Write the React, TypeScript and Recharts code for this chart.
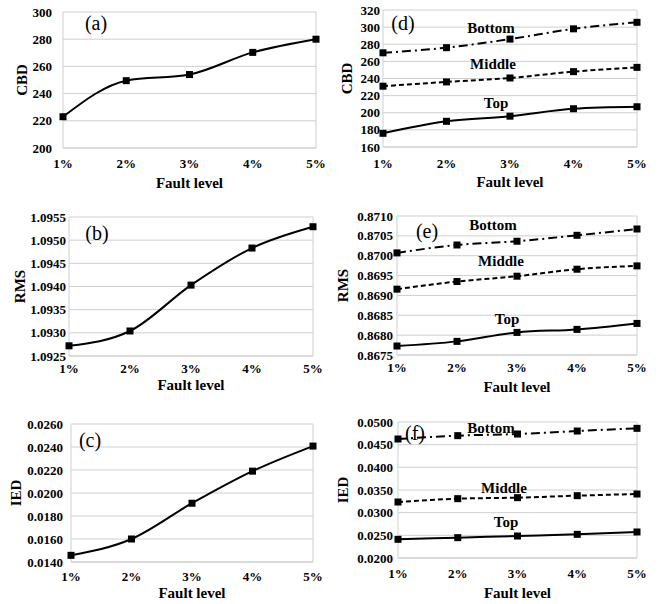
import React from "react";
import { LineChart, Line, XAxis, YAxis, CartesianGrid, ReferenceLine } from "recharts";

// Fault levels on the x axis
const faultLevels = ["1%", "2%", "3%", "4%", "5%"];

// Left column: single series
const cbdA = [223, 249.5, 254, 270.3, 280];
const rmsB = [1.09272, 1.09304, 1.09403, 1.09483, 1.09529];
const iedC = [0.01458, 0.016, 0.01911, 0.0219, 0.02408];

// Right column: Bottom / Middle / Top
const cbdBottom = [270, 276, 286, 298, 305.6];
const cbdMiddle = [231, 236, 240.6, 248, 253];
const cbdTop = [176, 190, 196, 204.7, 207];

const rmsBottom = [0.870071, 0.87027, 0.870364, 0.870514, 0.870673];
const rmsMiddle = [0.869158, 0.86935, 0.869484, 0.86966, 0.869744];
const rmsTop = [0.867726, 0.867843, 0.868069, 0.868145, 0.868295];

const iedBottom = [0.04625, 0.04699, 0.04735, 0.04801, 0.0486];
const iedMiddle = [0.03235, 0.03309, 0.03331, 0.03375, 0.03412];
const iedTop = [0.02412, 0.02449, 0.02485, 0.02522, 0.02574];

// Tick labels
const cbdTicksA = [200, 220, 240, 260, 280, 300];
const cbdTicksD = [160, 180, 200, 220, 240, 260, 280, 300, 320];
const rmsTicksB = [1.0925, 1.093, 1.0935, 1.094, 1.0945, 1.095, 1.0955];
const rmsTicksE = [0.8675, 0.868, 0.8685, 0.869, 0.8695, 0.87, 0.8705, 0.871];
const iedTicksC = [0.014, 0.016, 0.018, 0.02, 0.022, 0.024, 0.026];
const iedTicksF = [0.02, 0.025, 0.03, 0.035, 0.04, 0.045, 0.05];

const FONT = "'Liberation Serif', 'Times New Roman', serif";
const GRID = "#cfcfcf";

const build = (series: Record<string, number[]>) =>
  faultLevels.map((lvl, i) => {
    const row: Record<string, any> = { level: lvl };
    Object.keys(series).forEach((k) => (row[k] = series[k][i]));
    return row;
  });

const SquareDot = (props: any) => {
  const { cx, cy } = props;
  if (cx == null || cy == null) return null;
  return <rect x={cx - 3.5} y={cy - 3.5} width={7} height={7} fill="#000" />;
};

const yTitle = (text: string, dx: number) => (props: any) => {
  const vb = props.viewBox || {};
  const cx = vb.x + dx;
  const cy = vb.y + vb.height / 2;
  return (
    <text
      x={cx}
      y={cy}
      transform={`rotate(-90 ${cx} ${cy})`}
      textAnchor="middle"
      dominantBaseline="central"
      fontFamily={FONT}
      fontWeight="bold"
      fontSize={15}
      fill="#000"
    >
      {text}
    </text>
  );
};

type Note = { text: string; x: number; y: number; bold?: boolean };

type Panel = {
  ox: number; // chart origin x on page
  l: number;
  t: number;
  r: number;
  b: number;
  ticks: number[];
  digits: number;
  yName: string;
  yNameX: number;
  yGap: number;
  xGap: number;
  xH: number;
  data: Record<string, any>[];
  lines: { key: string; dash?: string }[];
  notes: Note[];
};

const panels: Panel[] = [
  {
    ox: 0, l: 63, t: 12, r: 316, b: 148, ticks: cbdTicksA, digits: 0, yName: "CBD", yNameX: 22,
    yGap: 11, xGap: 11, xH: 40, data: build({ v: cbdA }), lines: [{ key: "v" }],
    notes: [{ text: "(a)", x: 96, y: 23 }],
  },
  {
    ox: 331, l: 383, t: 10, r: 637, b: 147, ticks: cbdTicksD, digits: 0, yName: "CBD", yNameX: 16,
    yGap: 3, xGap: 12, xH: 40,
    data: build({ bottom: cbdBottom, middle: cbdMiddle, top: cbdTop }),
    lines: [{ key: "bottom", dash: "9 4 2 4" }, { key: "middle", dash: "5 3" }, { key: "top" }],
    notes: [
      { text: "(d)", x: 403, y: 23 },
      { text: "Bottom", x: 491, y: 28, bold: true },
      { text: "Middle", x: 493, y: 64, bold: true },
      { text: "Top", x: 496, y: 103, bold: true },
    ],
  },
  {
    ox: 0, l: 69, t: 217, r: 313, b: 356, ticks: rmsTicksB, digits: 4, yName: "RMS", yNameX: 20,
    yGap: 3, xGap: 8, xH: 34, data: build({ v: rmsB }), lines: [{ key: "v" }],
    notes: [{ text: "(b)", x: 97, y: 233 }],
  },
  {
    ox: 331, l: 397, t: 216, r: 637, b: 355, ticks: rmsTicksE, digits: 4, yName: "RMS", yNameX: 12,
    yGap: 4, xGap: 8, xH: 37,
    data: build({ bottom: rmsBottom, middle: rmsMiddle, top: rmsTop }),
    lines: [{ key: "bottom", dash: "9 4 2 4" }, { key: "middle", dash: "5 3" }, { key: "top" }],
    notes: [
      { text: "(e)", x: 427, y: 231 },
      { text: "Bottom", x: 493, y: 225, bold: true },
      { text: "Middle", x: 501, y: 261, bold: true },
      { text: "Top", x: 507, y: 319, bold: true },
    ],
  },
  {
    ox: 0, l: 71, t: 424, r: 313, b: 562, ticks: iedTicksC, digits: 4, yName: "IED", yNameX: 16,
    yGap: 8, xGap: 10, xH: 36, data: build({ v: iedC }), lines: [{ key: "v" }],
    notes: [{ text: "(c)", x: 90, y: 440 }],
  },
  {
    ox: 331, l: 398, t: 422, r: 637, b: 558, ticks: iedTicksF, digits: 4, yName: "IED", yNameX: 12,
    yGap: 5, xGap: 11, xH: 40,
    data: build({ bottom: iedBottom, middle: iedMiddle, top: iedTop }),
    lines: [{ key: "bottom", dash: "9 4 2 4" }, { key: "middle", dash: "5 3" }, { key: "top" }],
    notes: [
      { text: "(f)", x: 415, y: 433 },
      { text: "Bottom", x: 491, y: 428, bold: true },
      { text: "Middle", x: 504, y: 488, bold: true },
      { text: "Top", x: 506, y: 522, bold: true },
    ],
  },
];

function PanelChart({ p }: { p: Panel }) {
  const mt = 10;
  const mr = 14;
  const yW = p.l - p.ox;
  const width = p.r - p.ox + mr;
  const height = mt + (p.b - p.t) + p.xH + 4;
  const lo = p.ticks[0];
  const hi = p.ticks[p.ticks.length - 1];
  return (
    <div style={{ position: "absolute", left: p.ox, top: p.t - mt }}>
      <LineChart width={width} height={height} data={p.data} margin={{ top: mt, right: mr, bottom: 4, left: 0 }}>
        <CartesianGrid vertical={false} stroke={GRID} strokeWidth={1} />
        <XAxis
          dataKey="level"
          height={p.xH}
          tickSize={0}
          tickMargin={p.xGap}
          axisLine={{ stroke: GRID }}
          tickLine={false}
          tick={{ fontFamily: FONT, fontWeight: "bold", fontSize: 13, fill: "#000" }}
          label={{
            value: "Fault level",
            position: "insideBottom",
            offset: 0,
            style: { fontFamily: FONT, fontWeight: "bold", fontSize: 15, fill: "#000" },
          }}
        />
        <YAxis
          width={yW}
          domain={[lo, hi]}
          ticks={p.ticks}
          interval={0}
          allowDataOverflow
          tickSize={0}
          tickMargin={p.yGap}
          axisLine={{ stroke: GRID }}
          tickLine={false}
          tickFormatter={(v: number) => v.toFixed(p.digits)}
          tick={{ fontFamily: FONT, fontWeight: "bold", fontSize: 13, fill: "#000" }}
          label={{ content: yTitle(p.yName, p.yNameX) }}
        />
        <ReferenceLine x="5%" stroke={GRID} />
        {p.lines.map((ln) => (
          <Line
            key={ln.key}
            dataKey={ln.key}
            type="monotone"
            stroke="#000"
            strokeWidth={2}
            strokeDasharray={ln.dash}
            dot={<SquareDot />}
            activeDot={false}
            isAnimationActive={false}
          />
        ))}
      </LineChart>
    </div>
  );
}

export default function App() {
  return (
    <div style={{ position: "relative", width: 662, height: 604, background: "#fff", fontFamily: FONT }}>
      <style>{"body{margin:0}"}</style>
      {panels.map((p, i) => (
        <PanelChart key={i} p={p} />
      ))}
      <svg width={662} height={604} style={{ position: "absolute", left: 0, top: 0, pointerEvents: "none" }}>
        {panels.flatMap((p, i) =>
          p.notes.map((n, j) => (
            <text
              key={`${i}-${j}`}
              x={n.x}
              y={n.y}
              textAnchor="middle"
              dominantBaseline="central"
              fontFamily={FONT}
              fontWeight={n.bold ? "bold" : "normal"}
              fontSize={n.bold ? 15 : 20}
              fill="#000"
            >
              {n.text}
            </text>
          ))
        )}
      </svg>
    </div>
  );
}
